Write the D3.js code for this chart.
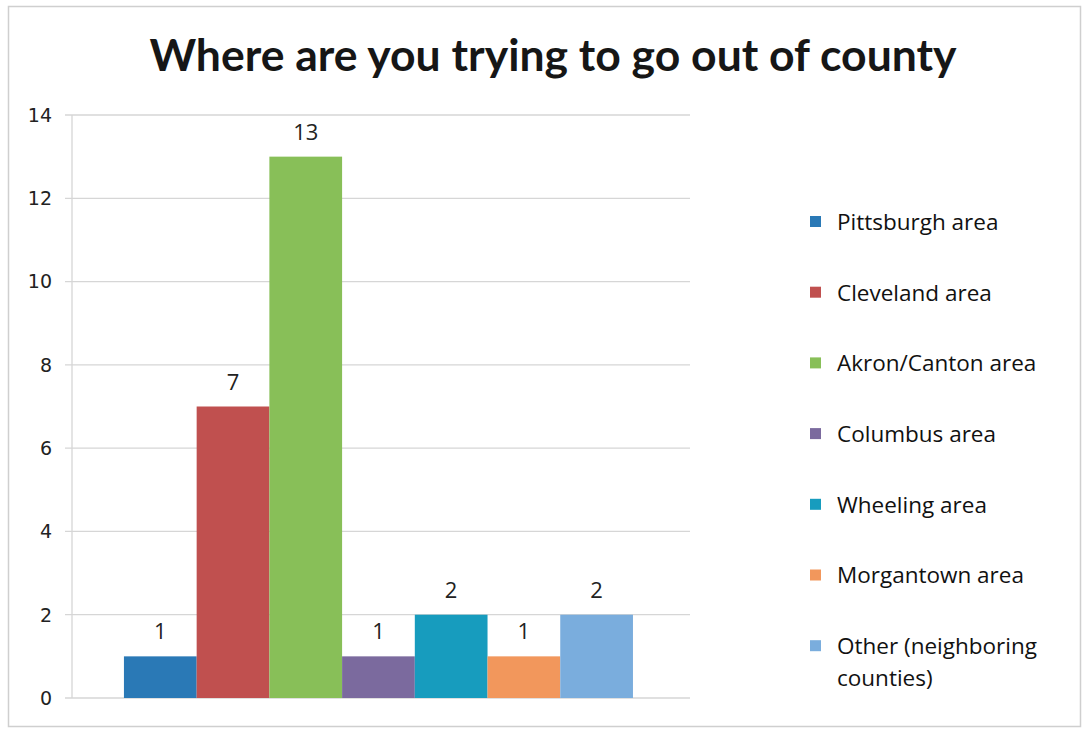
<!DOCTYPE html>
<html>
<head>
<meta charset="utf-8">
<script src="https://cdn.jsdelivr.net/npm/d3@7"></script>
<style>
body{margin:0;background:#fff;}
</style>
</head>
<body>
<div id="chart"></div>
<script>
// data
var categories = ["Pittsburgh area","Cleveland area","Akron/Canton area","Columbus area","Wheeling area","Morgantown area","Other (neighboring counties)"];
var values = [1,7,13,1,2,1,2];
var yTicks = [0,2,4,6,8,10,12,14];
var colors = ["#2a79b6","#c0504f","#88bf58","#7b6a9e","#179cbe","#f2975c","#7aaddd"];

var W = 1084, H = 730;
var margin = {top:115, right:394, bottom:32, left:70};
var plotW = W - margin.left - margin.right,
    plotH = H - margin.top - margin.bottom;

var svg = d3.select("#chart").append("svg")
    .attr("width", W)
    .attr("height", H);

// chart border
svg.append("rect")
    .attr("x", 8.5).attr("y", 6.5)
    .attr("width", W-12).attr("height", H-10)
    .attr("fill", "#fff")
    .attr("stroke", "#cfcfcf")
    .attr("stroke-width", 1.5);

svg.append("text")
    .attr("x", 553)
    .attr("y", 71)
    .attr("text-anchor", "middle")
    .style("font-family", "Lato, 'Open Sans', sans-serif")
    .style("font-weight", "bold")
    .style("font-size", "44.5px")
    .style("fill", "#161616")
    .text("Where are you trying to go out of county");

var g = svg.append("g")
    .attr("transform", "translate(" + margin.left + "," + margin.top + ")");

var y = d3.scaleLinear().domain([0,14]).range([plotH, 0]);

// series sit side by side inside the single category band
var x = d3.scaleBand()
    .domain(categories)
    .range([plotW*0.087, plotW*0.908])
    .padding(0);

// gridlines
g.selectAll(".grid")
    .data(yTicks)
    .enter().append("line")
    .attr("class","grid")
    .attr("x1", -5)
    .attr("x2", plotW)
    .attr("y1", function(d){ return y(d); })
    .attr("y2", function(d){ return y(d); })
    .attr("stroke", "#d6d6d6")
    .attr("stroke-width", 1.3);

g.append("line")
    .attr("x1", 2).attr("x2", 2)
    .attr("y1", 0).attr("y2", plotH)
    .attr("stroke", "#d6d6d6")
    .attr("stroke-width", 1.3);

g.selectAll(".ytick")
    .data(yTicks)
    .enter().append("text")
    .attr("class","ytick")
    .attr("x", -18)
    .attr("y", function(d){ return y(d); })
    .attr("dy", "0.36em")
    .attr("text-anchor", "end")
    .style("font-family", "'DejaVu Sans', sans-serif")
    .style("font-size", "19px")
    .style("fill", "#222")
    .text(function(d){ return d; });

// bars
g.selectAll(".bar")
    .data(values)
    .enter().append("rect")
    .attr("class","bar")
    .attr("x", function(d,i){ return x(categories[i]); })
    .attr("y", function(d){ return y(d); })
    .attr("width", x.bandwidth())
    .attr("height", function(d){ return plotH - y(d); })
    .style("fill", function(d,i){ return colors[i]; });

g.selectAll(".label")
    .data(values)
    .enter().append("text")
    .attr("class","label")
    .attr("x", function(d,i){ return x(categories[i]) + x.bandwidth()/2; })
    .attr("y", function(d){ return y(d) - 17; })
    .attr("text-anchor", "middle")
    .style("font-family", "'Open Sans', sans-serif")
    .style("font-size", "22px")
    .style("fill", "#222")
    .text(function(d){ return d; });

// legend
var legend = svg.append("g")
    .attr("transform", "translate(810,222)");

var item = legend.selectAll(".legendItem")
    .data(categories)
    .enter().append("g")
    .attr("class","legendItem")
    .attr("transform", function(d,i){ return "translate(0," + (i*70.7) + ")"; });

item.append("rect")
    .attr("x", 0).attr("y", -6)
    .attr("width", 11).attr("height", 11)
    .style("fill", function(d,i){ return colors[i]; });

item.each(function(d){
    var lines = d == "Other (neighboring counties)" ? ["Other (neighboring","counties)"] : [d];
    d3.select(this).selectAll(".legendText")
        .data(lines).enter().append("text")
        .attr("class","legendText")
        .attr("x", 27)
        .attr("y", function(l,i){ return i*32; })
        .attr("dy", "0.35em")
        .style("font-family", "'Open Sans', sans-serif")
        .style("font-size", "22.5px")
        .style("fill", "#111")
        .text(function(l){ return l; });
});
</script>
</body>
</html>
